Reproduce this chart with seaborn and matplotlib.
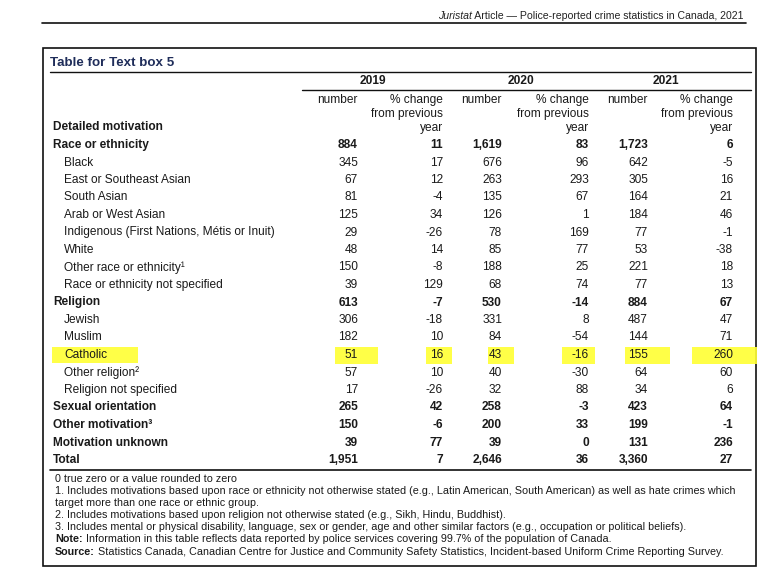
import matplotlib
matplotlib.use("Agg")
import matplotlib.pyplot as plt
import seaborn as sns
from matplotlib.patches import Rectangle

sns.set_theme(style="white")
plt.rcParams['font.family'] = ['Liberation Sans', 'DejaVu Sans']

# ---- data ----
labels = ["Race or ethnicity", "Black", "East or Southeast Asian", "South Asian",
          "Arab or West Asian", "Indigenous (First Nations, Métis or Inuit)", "White",
          "Other race or ethnicity¹", "Race or ethnicity not specified", "Religion",
          "Jewish", "Muslim", "Catholic", "Other religion²", "Religion not specified",
          "Sexual orientation", "Other motivation³", "Motivation unknown", "Total"]
bold_rows = [True, False, False, False, False, False, False, False, False, True,
             False, False, False, False, False, True, True, True, True]
indent_rows = [False, True, True, True, True, True, True, True, True, False,
               True, True, True, True, True, False, False, False, False]
n2019 = ["884", "345", "67", "81", "125", "29", "48", "150", "39", "613", "306", "182",
         "51", "57", "17", "265", "150", "39", "1,951"]
pc2019 = ["11", "17", "12", "-4", "34", "-26", "14", "-8", "129", "-7", "-18", "10",
          "16", "10", "-26", "42", "-6", "77", "7"]
n2020 = ["1,619", "676", "263", "135", "126", "78", "85", "188", "68", "530", "331", "84",
         "43", "40", "32", "258", "200", "39", "2,646"]
pc2020 = ["83", "96", "293", "67", "1", "169", "77", "25", "74", "-14", "8", "-54",
          "-16", "-30", "88", "-3", "33", "0", "36"]
n2021 = ["1,723", "642", "305", "164", "184", "77", "53", "221", "77", "884", "487", "144",
         "155", "64", "34", "423", "199", "131", "3,360"]
pc2021 = ["6", "-5", "16", "21", "46", "-1", "-38", "18", "13", "67", "47", "71",
          "260", "60", "6", "64", "-1", "236", "27"]
years = ["2019", "2020", "2021"]
highlight_row = "Catholic"
footnotes = [
    ("", "0 true zero or a value rounded to zero"),
    ("", "1. Includes motivations based upon race or ethnicity not otherwise stated (e.g., Latin American, South American) as well as hate crimes which"),
    ("", "target more than one race or ethnic group."),
    ("", "2. Includes motivations based upon religion not otherwise stated (e.g., Sikh, Hindu, Buddhist)."),
    ("", "3. Includes mental or physical disability, language, sex or gender, age and other similar factors (e.g., occupation or political beliefs)."),
    ("Note:", "Information in this table reflects data reported by police services covering 99.7% of the population of Canada."),
    ("Source:", "Statistics Canada, Canadian Centre for Justice and Community Safety Statistics, Incident-based Uniform Crime Reporting Survey."),
]

# ---- layout ----
fig = plt.figure(figsize=(7.72, 5.86), dpi=100)
ax = fig.add_axes([0, 0, 1, 1])
ax.set_xlim(0, 772)
ax.set_ylim(586, 0)
ax.axis("off")
fig.canvas.draw()
renderer = fig.canvas.get_renderer()
inv = ax.transData.inverted()


def left_x(t):
    bb = t.get_window_extent(renderer)
    return inv.transform((bb.x0, bb.y0))[0]


def right_x(t):
    bb = t.get_window_extent(renderer)
    return inv.transform((bb.x1, bb.y0))[0]


TXT = "#1a1a1a"
FS = 8.6
YEL = "#ffff33"

# page header
t1 = ax.text(743, 16, " Article — Police-reported crime statistics in Canada, 2021",
             ha="right", va="center", fontsize=7.6, color="#222222")
ax.text(left_x(t1), 16, "Juristat", ha="right", va="center", fontsize=7.6,
        style="italic", color="#222222")
ax.plot([42, 746], [23, 23], color="#111111", lw=1.2)

# table box
ax.add_patch(Rectangle((43, 48), 713, 518, fill=False, edgecolor="#111111", lw=1.2))
ax.text(50, 63, "Table for Text box 5", ha="left", va="center", fontsize=9.6,
        fontweight="bold", color="#1f2d5a")
ax.plot([50, 751], [72, 72], color="#111111", lw=1.0)

# year headers
num_x = [358, 502, 648]
pc_x = [443, 589, 733]
year_cx = [373, 521, 666]
for yr, cx in zip(years, year_cx):
    ax.text(cx, 81, yr, ha="center", va="center", fontsize=FS, fontweight="bold", color=TXT)
ax.plot([302, 751], [89.5, 89.5], color="#111111", lw=1.0)
for nx, px in zip(num_x, pc_x):
    ax.text(nx, 100, "number", ha="right", va="center", fontsize=FS, color=TXT)
    ax.text(px, 100, "% change", ha="right", va="center", fontsize=FS, color=TXT)
    ax.text(px, 114, "from previous", ha="right", va="center", fontsize=FS, color=TXT)
    ax.text(px, 127.5, "year", ha="right", va="center", fontsize=FS, color=TXT)
ax.text(53, 127.5, "Detailed motivation", ha="left", va="center", fontsize=FS,
        fontweight="bold", color=TXT)

# rows
y0, dy = 145, 17.5
cols = [(n2019, num_x[0]), (pc2019, pc_x[0]), (n2020, num_x[1]), (pc2020, pc_x[1]),
        (n2021, num_x[2]), (pc2021, pc_x[2])]
hl_spans = [(335, 378), (426, 452), (488, 514), (562, 595), (625, 670), (692, 757)]
for i, lab in enumerate(labels):
    y = y0 + i * dy
    if lab == highlight_row:
        ax.add_patch(Rectangle((52, y - 8.5), 86, 16, color=YEL, lw=0, alpha=0.9))
        for (a, b) in hl_spans:
            ax.add_patch(Rectangle((a, y - 8.5), b - a, 17, color=YEL, lw=0, alpha=0.9))
    w = "bold" if bold_rows[i] else "normal"
    ax.text(64 if indent_rows[i] else 53, y, lab, ha="left", va="center", fontsize=FS,
            fontweight=w, color=TXT)
    for vals, x in cols:
        ax.text(x, y, vals[i], ha="right", va="center", fontsize=FS, fontweight=w, color=TXT)

ax.plot([50, 751], [470, 470], color="#111111", lw=1.2)

# footnotes
FFS = 7.75
fy0, fdy = 479, 12.1
for j, (b, t) in enumerate(footnotes):
    y = fy0 + j * fdy
    if b:
        tb = ax.text(55, y, b, ha="left", va="center", fontsize=FFS, fontweight="bold",
                     color=TXT)
        ax.text(right_x(tb) + 3, y, t, ha="left", va="center", fontsize=FFS, color=TXT)
    else:
        ax.text(55, y, t, ha="left", va="center", fontsize=FFS, color=TXT)

fig.savefig("out.png", dpi=100)
